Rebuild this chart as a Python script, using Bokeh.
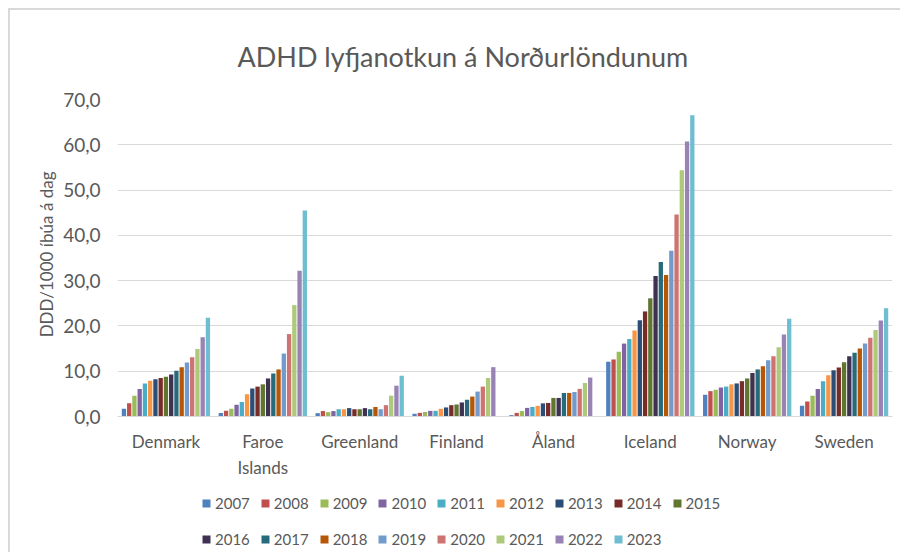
import math
from bokeh.plotting import figure
from bokeh.models import ColumnDataSource, FactorRange, Legend, LegendItem, FixedTicker, Span, Title
from bokeh.core.properties import value
from bokeh.transform import dodge
from bokeh.embed import file_html
from bokeh.resources import INLINE

countries = ["Denmark", "Faroe\nIslands", "Greenland", "Finland", "Åland", "Iceland", "Norway", "Sweden"]
years = [str(y) for y in range(2007, 2024)]

denmark = [1.7, 2.9, 4.6, 6.1, 7.3, 7.9, 8.2, 8.5, 8.8, 9.3, 10.1, 10.9, 11.9, 13.1, 14.9, 17.5, 21.8]
faroe = [0.8, 1.25, 1.7, 2.6, 3.2, 4.9, 6.2, 6.6, 7.1, 8.4, 9.5, 10.4, 13.9, 18.2, 24.6, 32.2, 45.5]
greenland = [0.74, 1.2, 0.96, 1.2, 1.6, 1.6, 1.85, 1.6, 1.6, 1.85, 1.6, 2.1, 1.6, 2.5, 4.6, 6.8, 9.0]
finland = [0.6, 0.8, 1.0, 1.25, 1.25, 1.7, 2.0, 2.5, 2.65, 3.1, 3.7, 4.4, 5.5, 6.6, 8.5, 10.9, None]
aland = [0.3, 0.8, 1.2, 1.9, 2.1, 2.35, 2.9, 3.0, 4.1, 4.1, 5.2, 5.2, 5.4, 6.1, 7.4, 8.6, None]
iceland = [12.1, 12.6, 14.3, 16.1, 17.1, 19.0, 21.25, 23.2, 26.1, 31.0, 34.1, 31.25, 36.6, 44.6, 54.4, 60.7, 66.5]
norway = [4.8, 5.6, 5.9, 6.4, 6.6, 7.1, 7.3, 7.8, 8.4, 9.6, 10.4, 11.1, 12.4, 13.3, 15.3, 18.1, 21.6]
sweden = [2.4, 3.3, 4.6, 6.1, 7.8, 9.1, 10.2, 10.8, 12.0, 13.3, 14.1, 15.0, 16.1, 17.4, 19.1, 21.2, 23.9]

colors = ["#4F81BD", "#C0504D", "#9BBB59", "#8064A2", "#4BACC6", "#F79646", "#2C4D75", "#772C2A",
          "#5F7530", "#3F3151", "#276A7C", "#B65708", "#729ACA", "#CD7371", "#AFC97A", "#9983B5", "#6FBDD1"]

y_ticks = [0, 10, 20, 30, 40, 50, 60, 70]
y_tick_labels = ["0,0", "10,0", "20,0", "30,0", "40,0", "50,0", "60,0", "70,0"]

series = [denmark, faroe, greenland, finland, aland, iceland, norway, sweden]
data = {"country": countries}
for i, yr in enumerate(years):
    data[yr] = [float("nan") if s[i] is None else s[i] for s in series]
src = ColumnDataSource(data)

FONT = "Lato"
TXT = "#595959"

# the frame extends below zero to hold the category labels and the legend
px_per_unit = 317 / 70.0
y_bottom = -143 / px_per_unit

p = figure(x_range=FactorRange(*countries, range_padding=0), y_range=(y_bottom, 70),
           frame_width=775, frame_height=460, output_backend="svg", toolbar_location=None,
           min_border_left=107, min_border_right=8, min_border_top=78, min_border_bottom=4)
p.styles = {"margin-left": "8px", "margin-top": "8px",
            "border-left": "2px solid #d9d9d9", "border-top": "2px solid #d9d9d9"}

p.title.text = "ADHD lyfjanotkun á Norðurlöndunum"
p.title.align = "left"
p.title.offset = 120
p.title.text_font = FONT
p.title.text_font_size = "27px"
p.title.text_font_style = "normal"
p.title.text_color = TXT
p.title.standoff = 54

slot = 0.0542
renderers = []
for i, yr in enumerate(years):
    off = (i - 8) * slot
    r = p.vbar(x=dodge("country", off, range=p.x_range), top=yr, width=slot * 0.82,
               source=src, fill_color=colors[i], line_color=None)
    renderers.append(r)

p.outline_line_color = None
p.xgrid.grid_line_color = None
p.ygrid.grid_line_color = "#d9d9d9"
p.ygrid.grid_line_width = 1
p.xaxis.visible = False

p.add_layout(Span(location=0, dimension="width", line_color="#d9d9d9", line_width=1))

lab_src = ColumnDataSource(dict(x=countries, y=[-3.2] * len(countries), t=countries))
p.text(x="x", y="y", text="t", source=lab_src, text_align="center", text_baseline="top",
       text_font=value(FONT), text_font_size="17px", text_color=TXT, text_line_height=1.25)

p.yaxis.ticker = FixedTicker(ticks=y_ticks)
p.yaxis.major_label_overrides = dict(zip(y_ticks, y_tick_labels))
p.yaxis.axis_line_color = None
p.yaxis.major_tick_line_color = None
p.yaxis.minor_tick_line_color = None
p.yaxis.major_label_standoff = 11
p.yaxis.major_label_text_font = FONT
p.yaxis.major_label_text_font_size = "19px"
p.yaxis.major_label_text_color = TXT

ylab = Title(text="DDD/1000 íbúa á dag", align="right", offset=72, vertical_align="bottom",
             text_font=FONT, text_font_size="17px", text_font_style="normal",
             text_color=TXT, standoff=8)
p.add_layout(ylab, "left")

items = [LegendItem(label=years[k], renderers=[renderers[k]]) for k in range(len(years))]
lg = Legend(items=items, orientation="horizontal", ncols=9, location=(84, 7),
            glyph_width=10, glyph_height=10, label_standoff=4, spacing=10, label_height=26,
            padding=6, margin=0, border_line_color=None, background_fill_alpha=0,
            label_text_font=FONT, label_text_font_size="15px", label_text_color=TXT)
p.add_layout(lg, "center")

open("out.html", "w").write(file_html(p, INLINE))
